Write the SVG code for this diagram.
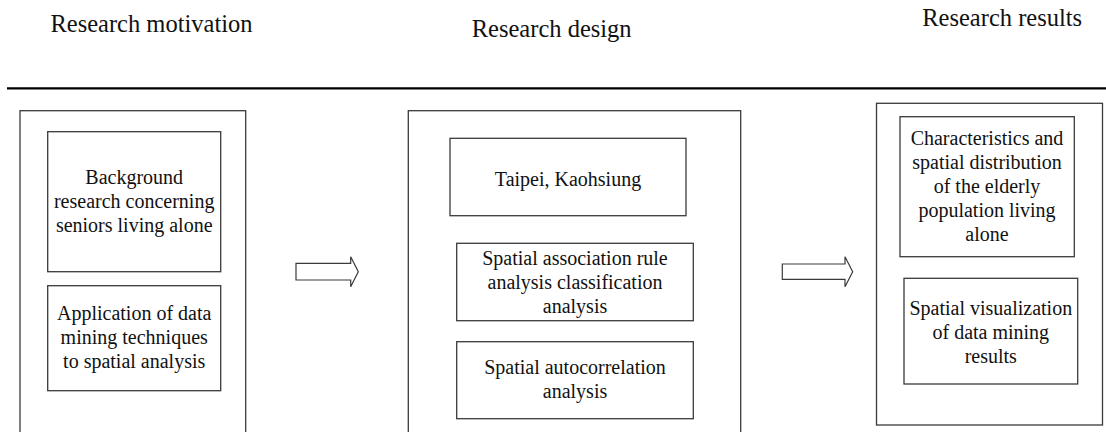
<svg xmlns="http://www.w3.org/2000/svg" width="1106" height="432" viewBox="0 0 1106 432">
<style>
.box{fill:#fff;stroke:#3a3a3a;stroke-width:1.3}
.t{font-family:"Liberation Serif","Times New Roman",serif;font-size:20px;fill:#111;text-anchor:middle}
.h{font-family:"Liberation Serif","Times New Roman",serif;font-size:24.5px;fill:#111;text-anchor:middle}
.arr{fill:#fff;stroke:#3a3a3a;stroke-width:1.2;stroke-linejoin:miter}
</style>
<rect width="1106" height="432" fill="#fff"/>
<g id="headers">
<text class="h" x="151.5" y="31.5">Research motivation</text>
<text class="h" x="551.7" y="37.3">Research design</text>
<text class="h" x="1002.2" y="26">Research results</text>
<line x1="7" y1="88.3" x2="1106" y2="88.3" stroke="#000" stroke-width="2.2"/>
</g>
<g id="motivation">
<rect class="box" x="20" y="110.7" width="225.7" height="340"/>
<g id="bg">
<rect class="box" x="47.7" y="131.7" width="173" height="140"/>
<text class="t" x="134.2" y="184">Background</text>
<text class="t" x="134.2" y="208">research concerning</text>
<text class="t" x="134.2" y="232">seniors living alone</text>
</g>
<g id="app">
<rect class="box" x="47.7" y="285.7" width="173" height="105"/>
<text class="t" x="134.2" y="320">Application of data</text>
<text class="t" x="134.2" y="344">mining techniques</text>
<text class="t" x="134.2" y="368">to spatial analysis</text>
</g>
</g>
<g id="design">
<rect class="box" x="408.3" y="110.7" width="332.4" height="340"/>
<g id="taipei">
<rect class="box" x="450" y="138.3" width="236" height="77.4"/>
<text class="t" x="568" y="186">Taipei, Kaohsiung</text>
</g>
<g id="assoc">
<rect class="box" x="456.7" y="243.3" width="236.6" height="77.4"/>
<text class="t" x="575" y="264.5">Spatial association rule</text>
<text class="t" x="575" y="288.5">analysis classification</text>
<text class="t" x="575" y="312.5">analysis</text>
</g>
<g id="autocorr">
<rect class="box" x="456.7" y="341.7" width="236.6" height="77"/>
<text class="t" x="575" y="374">Spatial autocorrelation</text>
<text class="t" x="575" y="398">analysis</text>
</g>
</g>
<g id="results">
<rect class="box" x="876.5" y="103.3" width="226" height="321.7"/>
<g id="charac">
<rect class="box" x="900" y="116.7" width="174.3" height="140"/>
<text class="t" x="987" y="145">Characteristics and</text>
<text class="t" x="987" y="169">spatial distribution</text>
<text class="t" x="987" y="193">of the elderly</text>
<text class="t" x="987" y="217">population living</text>
<text class="t" x="987" y="241">alone</text>
</g>
<g id="visual">
<rect class="box" x="904" y="278.3" width="173.7" height="105.7"/>
<text class="t" x="990.8" y="315">Spatial visualization</text>
<text class="t" x="990.8" y="339">of data mining</text>
<text class="t" x="990.8" y="363">results</text>
</g>
</g>
<g id="connectors">
<polygon class="arr" points="296,263.3 350.7,263.3 350.7,256.7 358.3,271.7 350.7,286.7 350.7,280 296,280"/>
<polygon class="arr" points="782.3,264 845,264 845,256.7 852.7,271.7 845,286.7 845,279.3 782.3,279.3"/>
</g>
</svg>
